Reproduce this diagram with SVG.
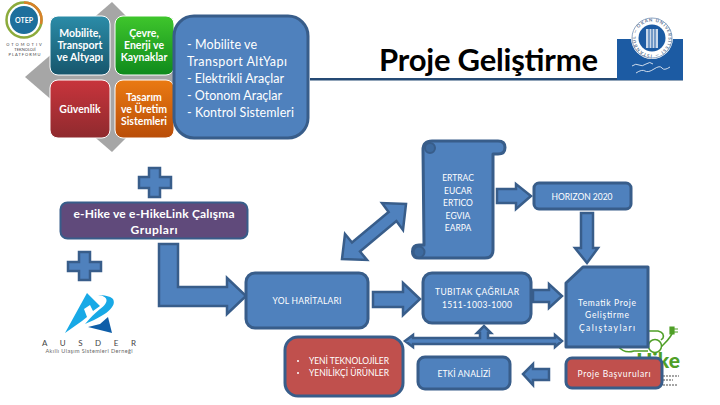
<svg xmlns="http://www.w3.org/2000/svg" width="720" height="405" viewBox="0 0 720 405">
<style>
text{font-family:Lato,"Liberation Sans","Noto Sans",sans-serif}
.b{fill:#4f81bd;stroke:#385d8a;stroke-width:3;stroke-linejoin:round}
.b2{fill:#4f81bd;stroke:#385d8a;stroke-width:2.5;stroke-linejoin:miter}
.r{fill:#c0504d;stroke:#385d8a;stroke-width:3}
.t{fill:#fff;font-size:8.5px;text-anchor:middle;dominant-baseline:central}
.h{fill:#fff;font-size:12.5px;dominant-baseline:central}
.g{fill:#fff;font-size:12px;font-weight:700;text-anchor:middle;dominant-baseline:central}
.tile{stroke:#fff;stroke-width:1}
.s{fill:#fff;font-size:10.5px;font-weight:700;text-anchor:middle;dominant-baseline:central}
</style>
<defs>
<linearGradient id="gT" x1="0" y1="0" x2="0" y2="1"><stop offset="0" stop-color="#2b8ca8"/><stop offset="1" stop-color="#17566c"/></linearGradient>
<linearGradient id="gG" x1="0" y1="0" x2="0" y2="1"><stop offset="0" stop-color="#3fc62c"/><stop offset="1" stop-color="#0f8a1c"/></linearGradient>
<linearGradient id="gR" x1="0" y1="0" x2="0" y2="1"><stop offset="0" stop-color="#c8343c"/><stop offset="1" stop-color="#8f2a2e"/></linearGradient>
<linearGradient id="gO" x1="0" y1="0" x2="0" y2="1"><stop offset="0" stop-color="#ea7a12"/><stop offset="1" stop-color="#b94d08"/></linearGradient>
<path id="ring" d="M652,54.500 A16.500,16.500 0 1 1 652.100,54.500"/>
</defs>

<g id="otep-logo">
<circle cx="24" cy="20" r="17.500" fill="#fff" stroke="#8cab3c" stroke-width="2.500"/>
<path d="M24,2.500 A17.500,17.500 0 0 1 41,24" fill="none" stroke="#d9812a" stroke-width="2.500"/>
<circle cx="24" cy="20" r="14" fill="#1d6f9c"/>
<text x="24" y="20" font-size="7" font-weight="700" fill="#fff" text-anchor="middle" dominant-baseline="central">OTEP</text>
<g fill="#444" font-size="4" text-anchor="middle">
<text x="25" y="46" letter-spacing="2">OTOMOTIV</text>
<text x="25" y="51">TEKNOLOJİ</text>
<text x="25" y="56" letter-spacing="1">PLATFORMU</text>
</g>
</g>

<g id="tiles">
<path d="M112,2 L187,77 L112,152 L25,77 Z" fill="#a6a6a6"/>
<rect class="tile" x="50" y="16" width="60" height="59" rx="8" fill="url(#gT)"/>
<rect class="tile" x="115" y="16" width="59" height="59" rx="8" fill="url(#gG)"/>
<rect class="tile" x="50" y="80" width="60" height="58" rx="8" fill="url(#gR)"/>
<rect class="tile" x="115" y="80" width="59" height="58" rx="8" fill="url(#gO)"/>
<text class="s" x="80" y="33">Mobilite,</text>
<text class="s" x="80" y="45">Transport</text>
<text class="s" x="80" y="57">ve Altyapı</text>
<text class="s" x="144" y="33">Çevre,</text>
<text class="s" x="144" y="45">Enerji ve</text>
<text class="s" x="144" y="57">Kaynaklar</text>
<text class="s" x="80" y="109">Güvenlik</text>
<text class="s" x="144" y="97">Tasarım</text>
<text class="s" x="144" y="109">ve Üretim</text>
<text class="s" x="144" y="121">Sistemleri</text>
</g>

<g id="title">
<rect x="310" y="78" width="373" height="2.500" fill="#254a74"/>
<text x="379" y="71" font-size="31" font-weight="700" fill="#000" textLength="219" lengthAdjust="spacing">Proje Geliştirme</text>
</g>

<g id="okan-logo">
<rect x="617" y="39" width="66" height="41" fill="#1c5ba3"/>
<circle cx="652" cy="38" r="21" fill="#fff"/>
<circle cx="652" cy="38" r="20" fill="none" stroke="#8ea6c4" stroke-width="1"/>
<circle cx="652" cy="38" r="13.500" fill="#1c5ba3"/>
<path d="M646,29 H658 V48 H646 Z" fill="#c9d8ea"/>
<path d="M649,29 V48 M652,29 V48 M655,29 V48" stroke="#1c5ba3" stroke-width="1"/>
<text font-size="4.500" fill="#5d7594" font-weight="700"><textPath href="#ring" textLength="100">İSTANBUL — OKAN ÜNİVERSİTESİ — </textPath></text>
<path d="M632,66 q4,-3 7,-1 t7,-1 t7,0 M636,73 q6,-4 9,-2 t9,-2 t8,-1 t8,-1" fill="none" stroke="#cfdcec" stroke-width="1"/>
</g>

<g id="ehike-logo">
<path d="M618,346 q6,8 16,5 h14 M648,331 h10 c5,1 6,4 5,7 l-2,2 M673,331 c-1,5 -5,9 -9,13 l-3,3" fill="none" stroke="#4f9f27" stroke-width="1.500"/>
<circle cx="655" cy="346" r="6.500" fill="#fff" stroke="#4f9f27" stroke-width="1.500"/>
<path d="M670,327 h4 v7 h-4 Z M674,329 h4 M674,332 h4" fill="#4f9f27" stroke="#4f9f27" stroke-width="1.200"/>
<text x="680" y="368" font-size="21" font-weight="900" fill="#4f9f27" text-anchor="end">Hike</text>
<path d="M663,376 h16 M663,380 h10 M663,385 h14" stroke="#888" stroke-width="1.500" stroke-dasharray="2 1"/>
</g>

<g id="connectors">
<path class="b2" d="M159,244 H178 V287 H227 V278 L246,296 L227,314 V306 H159 Z"/>
<path class="b2" d="M406,204 L403,230 L396.400,221 L360,251.500 L367,260 L342,259 L345,234 L352,242.500 L388.600,212 L382,203 Z"/>
<path class="b2" d="M497,189 H516 V184 L531,196 L516,209 V203 H497 Z"/>
<path class="b2" d="M581,213 H593 V248 H598 L587,263 L575,248 H581 Z"/>
<path class="b2" d="M373,292 H403 V283 L420,299 L403,315 V307 H373 Z"/>
<path class="b2" d="M533,290 H549 V284 L562,296 L549,308 V302 H533 Z"/>
<path class="b2" d="M405,341 L413,335 V338 H480 V333 H477 L484,326 L491,333 H488 V338 H555 V335 L562,341 L555,347 V344 H413 V347 Z" stroke-width="2"/>
<path class="b2" d="M549,369 H533 V364 L523,374 L533,385 V380 H549 Z"/>
</g>

<g id="plus-1"><path class="b2" d="M149,168 H160 V177 H171 V188 H160 V197 H149 V188 H139 V177 H149 Z"/></g>
<g id="plus-2"><path class="b2" d="M79,252 H90 V262 H101 V271 H90 V280 H79 V271 H68 V262 H79 Z"/></g>

<g id="blue-list">
<rect class="b" x="174" y="16" width="134" height="122" rx="20"/>
<text class="h" x="187" y="44" textLength="70">- Mobilite ve</text>
<text class="h" x="187" y="61" textLength="100">Transport AltYapı</text>
<text class="h" x="187" y="78" textLength="97">- Elektrikli Araçlar</text>
<text class="h" x="187" y="95" textLength="95">- Otonom Araçlar</text>
<text class="h" x="187" y="112" textLength="107">- Kontrol Sistemleri</text>
</g>

<g id="ehike-groups">
<rect x="60.500" y="202.500" width="187" height="36" rx="7" fill="#604a7b" stroke="#385d8a" stroke-width="2"/>
<text class="g" x="154" y="213" textLength="161">e-Hike ve e-HikeLink Çalışma</text>
<text class="g" x="154" y="229" textLength="47">Grupları</text>
</g>

<g id="ausder-logo">
<path d="M87,293 L65,333 L82,321 L87,317 L84,309 L90,305 L93,311 L100,306 Z" fill="#18a9e6"/>
<path d="M85,324 C100,318 118,308 113,299 C110,296 104,295 98,295 C108,296 110,302 100,309 C95,313 90,318 85,324 Z" fill="#18a9e6"/>
<path d="M108,317 L112,333 L88,327 L100,324 Z" fill="#0f5ea8"/>
<text x="89" y="346" font-size="8" fill="#444" text-anchor="middle" textLength="94">A U S D E R</text>
<text x="89" y="353" font-size="5.500" fill="#666" text-anchor="middle" textLength="87">Akıllı Ulaşım Sistemleri Derneği</text>
</g>

<g id="scroll">
<path class="b" d="M423,150 Q423,141 432,141 H498 Q505,141 505,147.500 Q505,154 498,154 H493 V250 Q493,258 485,258 H419 Q412.500,258 412.500,251.500 Q412.500,245 419,245 H424 Z"/>
<circle cx="430" cy="148" r="5" fill="#3d6a9f" stroke="#385d8a" stroke-width="2"/>
<circle cx="419" cy="252" r="5.500" fill="#3d6a9f" stroke="#385d8a" stroke-width="2"/>
<text class="t" x="458" y="178">ERTRAC</text>
<text class="t" x="458" y="191">EUCAR</text>
<text class="t" x="458" y="203">ERTICO</text>
<text class="t" x="458" y="216">EGVIA</text>
<text class="t" x="458" y="228">EARPA</text>
</g>

<g id="horizon"><rect class="b" x="534" y="183" width="97" height="26" rx="5"/><text class="t" x="582" y="197" textLength="61">HORIZON 2020</text></g>
<g id="yol"><rect class="b" x="246" y="273" width="122" height="55" rx="9"/><text class="t" x="307" y="301" textLength="69">YOL HARİTALARI</text></g>
<g id="tubitak"><rect class="b" x="423" y="273" width="108" height="50" rx="9"/><text class="t" x="477" y="292" textLength="84">TUBITAK ÇAĞRILAR</text><text class="t" x="477" y="305" textLength="70">1511-1003-1000</text></g>
<g id="tematik"><path class="b" d="M566,283 L583,267 H648 V347 H566 Z"/><text class="t" x="607" y="303" textLength="58">Tematik Proje</text><text class="t" x="607" y="315" textLength="44">Geliştirme</text><text class="t" x="607" y="328" textLength="56">Çalıştayları</text></g>
<g id="yeni"><rect class="r" x="285" y="337" width="118" height="59" rx="13"/>
<circle cx="298" cy="361" r="1" fill="#fff"/><circle cx="298" cy="373" r="1" fill="#fff"/>
<text class="t" x="309" y="361" style="text-anchor:start" textLength="80">YENİ TEKNOLOJİLER</text><text class="t" x="309" y="373" style="text-anchor:start" textLength="80">YENİLİKÇİ ÜRÜNLER</text></g>
<g id="etki"><rect class="b" x="418" y="357" width="92" height="32" rx="7"/><text class="t" x="464" y="374" textLength="53">ETKİ ANALİZİ</text></g>
<g id="basvuru"><rect class="r" x="566" y="358" width="96" height="30" rx="6"/><text class="t" x="614" y="374" textLength="73">Proje Başvuruları</text></g>
</svg>
